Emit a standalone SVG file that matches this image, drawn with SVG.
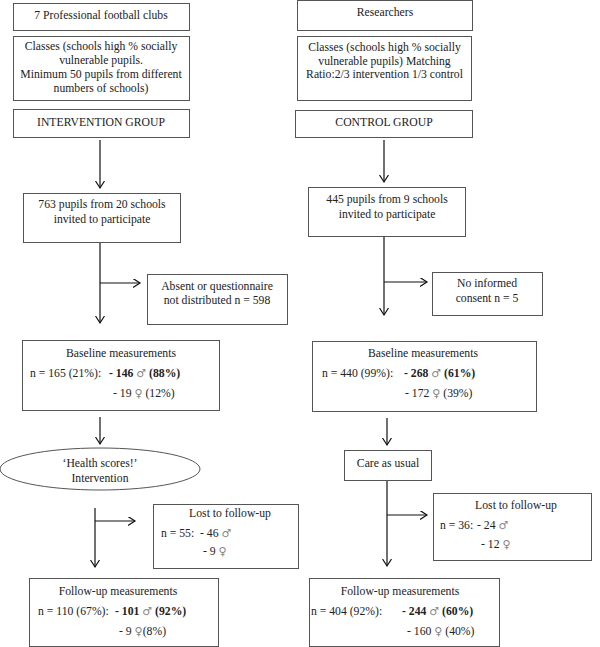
<svg xmlns="http://www.w3.org/2000/svg" width="600" height="647" viewBox="0 0 600 647">
<style>
.box{fill:#fff;stroke:#555;stroke-width:1}
.ln{fill:none;stroke:#111;stroke-width:1.2}
text{font-family:"Liberation Serif","Times New Roman",serif;font-size:11.7px;fill:#222}
.c{text-anchor:middle}
.b{font-weight:bold}
.sym{font-family:"DejaVu Sans",sans-serif;font-weight:normal;fill:#888;font-size:11px}
</style>
<defs>
<marker id="ah" markerUnits="userSpaceOnUse" markerWidth="10" markerHeight="10" refX="7" refY="4.5" orient="auto">
<path d="M0,0 L7,4.5 L0,9" fill="none" stroke="#111" stroke-width="1.2"/>
</marker>
</defs>
<rect width="600" height="647" fill="#fff"/>

<g id="connectors">
<line class="ln" x1="100" y1="140" x2="100" y2="188" marker-end="url(#ah)"/>
<line class="ln" x1="100" y1="242" x2="100" y2="323" marker-end="url(#ah)"/>
<line class="ln" x1="100" y1="283" x2="140" y2="283" marker-end="url(#ah)"/>
<line class="ln" x1="100" y1="417" x2="100" y2="444" marker-end="url(#ah)"/>
<line class="ln" x1="95" y1="508" x2="95" y2="567" marker-end="url(#ah)"/>
<line class="ln" x1="95" y1="521" x2="135" y2="521" marker-end="url(#ah)"/>
<line class="ln" x1="384" y1="140" x2="384" y2="182" marker-end="url(#ah)"/>
<line class="ln" x1="384" y1="236" x2="384" y2="315" marker-end="url(#ah)"/>
<line class="ln" x1="384" y1="282" x2="427" y2="282" marker-end="url(#ah)"/>
<line class="ln" x1="387" y1="418" x2="387" y2="445" marker-end="url(#ah)"/>
<line class="ln" x1="387" y1="480" x2="387" y2="566" marker-end="url(#ah)"/>
<line class="ln" x1="387" y1="515" x2="427" y2="515" marker-end="url(#ah)"/>
</g>

<g id="clubs"><rect class="box" x="13.5" y="3.5" width="176" height="27"/>
<text class="c" x="101" y="18.5">7 Professional football clubs</text></g>

<g id="classes-left"><rect class="box" x="13.5" y="36.5" width="176" height="64"/>
<text class="c" x="101" y="50">Classes (schools high % socially</text>
<text class="c" x="101" y="64">vulnerable pupils.</text>
<text class="c" x="101" y="78">Minimum 50 pupils from different</text>
<text class="c" x="101" y="92">numbers of schools)</text></g>

<g id="intervention-group"><rect class="box" x="13.5" y="109.5" width="176" height="28"/>
<text class="c" x="101" y="126">INTERVENTION GROUP</text></g>

<g id="researchers"><rect class="box" x="297.5" y="0.5" width="175" height="30"/>
<text class="c" x="385" y="15.5">Researchers</text></g>

<g id="classes-right"><rect class="box" x="297.5" y="36.5" width="174" height="64"/>
<text class="c" x="384.5" y="50.5">Classes (schools high % socially</text>
<text class="c" x="384.5" y="64.5">vulnerable pupils)  Matching</text>
<text class="c" x="384.5" y="78">Ratio:2/3 intervention 1/3 control</text></g>

<g id="control-group"><rect class="box" x="295.5" y="110.5" width="177" height="27"/>
<text class="c" x="384" y="126">CONTROL GROUP</text></g>

<g id="invited-left"><rect class="box" x="23.5" y="193.5" width="157" height="49"/>
<text class="c" x="102" y="208">763 pupils from 20 schools</text>
<text class="c" x="102" y="223">invited to participate</text></g>

<g id="absent"><rect class="box" x="147.5" y="274.5" width="140" height="50"/>
<text class="c" x="217" y="290">Absent or questionnaire</text>
<text class="c" x="217" y="303.5">not distributed n = 598</text></g>

<g id="invited-right"><rect class="box" x="308.5" y="187.5" width="157" height="49"/>
<text class="c" x="387" y="203">445 pupils from 9 schools</text>
<text class="c" x="387" y="218">invited to participate</text></g>

<g id="no-consent"><rect class="box" x="432.5" y="272.5" width="110" height="43"/>
<text class="c" x="487" y="287">No informed</text>
<text class="c" x="487" y="302">consent n = 5</text></g>

<g id="baseline-left"><rect class="box" x="22.5" y="340.5" width="197" height="70"/>
<text class="c" x="121" y="357">Baseline measurements</text>
<text x="30" y="377">n = 165 (21%):</text>
<text x="109" y="377" class="b">- 146 <tspan class="sym">♂</tspan> (88%)</text>
<text x="113" y="397">- 19 <tspan class="sym">♀</tspan>  (12%)</text></g>

<g id="baseline-right"><rect class="box" x="312.5" y="341.5" width="224" height="70"/>
<text class="c" x="423" y="357">Baseline measurements</text>
<text x="322" y="377">n = 440 (99%):</text>
<text x="404" y="377" class="b">- 268 <tspan class="sym">♂</tspan> (61%)</text>
<text x="405" y="397">- 172 <tspan class="sym">♀</tspan> (39%)</text></g>

<g id="health-scores"><ellipse cx="100" cy="469" rx="100" ry="21" fill="#fff" stroke="#555" stroke-width="1"/>
<text class="c" x="100" y="467">‘Health scores!’</text>
<text class="c" x="100" y="482">Intervention</text></g>

<g id="care-as-usual"><rect class="box" x="344.5" y="450.5" width="87" height="30"/>
<text class="c" x="388" y="467">Care as usual</text></g>

<g id="lost-left"><rect class="box" x="153.5" y="504.5" width="145" height="64"/>
<text class="c" x="230" y="517">Lost to follow-up</text>
<text x="161" y="537">n = 55:</text>
<text x="200" y="537">- 46 <tspan class="sym">♂</tspan></text>
<text x="203" y="555">- 9 <tspan class="sym">♀</tspan></text></g>

<g id="lost-right"><rect class="box" x="433.5" y="493.5" width="158" height="67"/>
<text class="c" x="516" y="509">Lost to follow-up</text>
<text x="440" y="529">n = 36:</text>
<text x="477" y="529">- 24 <tspan class="sym">♂</tspan></text>
<text x="481" y="548">- 12 <tspan class="sym">♀</tspan></text></g>

<g id="followup-left"><rect class="box" x="29.5" y="578.5" width="189" height="68"/>
<text class="c" x="118" y="595">Follow-up measurements</text>
<text x="38" y="615">n = 110 (67%):</text>
<text x="115" y="615" class="b">- 101 <tspan class="sym">♂</tspan> (92%)</text>
<text x="119" y="635">- 9 <tspan class="sym">♀</tspan>(8%)</text></g>

<g id="followup-right"><rect class="box" x="309.5" y="578.5" width="190" height="68"/>
<text class="c" x="400" y="595">Follow-up measurements</text>
<text x="311" y="615">n = 404 (92%):</text>
<text x="402" y="615" class="b">- 244 <tspan class="sym">♂</tspan> (60%)</text>
<text x="407" y="635">- 160 <tspan class="sym">♀</tspan> (40%)</text></g>
</svg>
